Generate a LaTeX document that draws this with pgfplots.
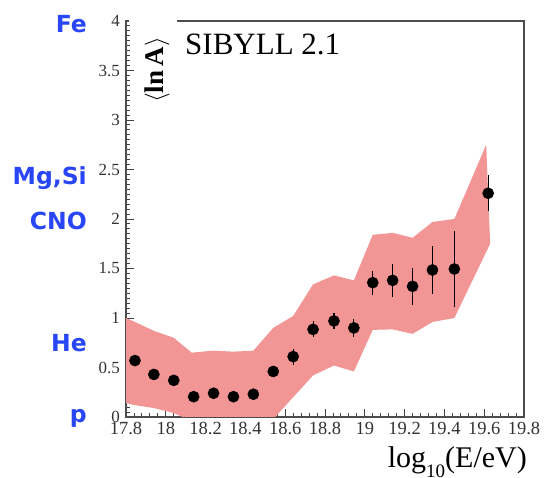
\documentclass[border=0pt]{standalone}
\usepackage{fontspec}
\setmainfont{Liberation Serif}
\newfontfamily\elemfont{DejaVu Sans}
\usepackage{pgfplots}
\usepackage{pgfplotstable}
\pgfplotsset{compat=1.18}

\definecolor{bandpink}{RGB}{241,150,148}
\definecolor{elemblue}{RGB}{40,70,245}

% <lnA> per energy bin with statistical uncertainty
\pgfplotstableread{
x      y     ey
17.845 0.57  0.05
17.94  0.43  0.03
18.04  0.37  0.03
18.14  0.205 0.03
18.24  0.24  0.03
18.34  0.205 0.03
18.44  0.23  0.03
18.54  0.46  0.06
18.64  0.61  0.08
18.74  0.885 0.08
18.845 0.97  0.08
18.945 0.90  0.09
19.04  1.357 0.12
19.14  1.38  0.17
19.24  1.32  0.19
19.34  1.485 0.24
19.45  1.495 0.38
19.62  2.26  0.18
}\lnAdata

% systematic band: upper edge left to right, then lower edge right to left
\pgfplotstableread{
x      y
17.80  1.00
17.845 0.96
17.94  0.87
18.04  0.80
18.13  0.65
18.24  0.67
18.34  0.66
18.44  0.67
18.54  0.90
18.64  1.02
18.74  1.34
18.845 1.43
18.945 1.38
19.04  1.84
19.14  1.86
19.24  1.81
19.34  1.97
19.45  2.00
19.61  2.75
19.63  1.75
19.45  1.00
19.34  0.96
19.24  0.84
19.14  0.885
19.04  0.88
18.945 0.46
18.845 0.52
18.74  0.42
18.64  0.20
18.54  -0.02
18.44  -0.08
18.34  -0.10
18.24  -0.10
18.14  -0.05
18.04  0.04
17.94  0.09
17.845 0.12
17.80  0.14
}\bandedge

\begin{document}
\begin{tikzpicture}
\useasboundingbox (-126pt,-61pt) rectangle (419pt,417pt);
\begin{axis}[
  at={(0pt,0pt)}, anchor=south west,
  scale only axis, width=398pt, height=396pt,
  xmin=17.8, xmax=19.8, ymin=0, ymax=4,
  xtick distance=0.2, ytick distance=0.5,
  minor x tick num=4, minor y tick num=9,
  xtick pos=bottom, ytick pos=left,
  tick align=inside,
  major tick length=8pt, minor tick length=4pt,
  every tick/.style={black!75, line width=0.9pt},
  axis line style={black!70, line width=1.3pt},
  tick label style={text=black!80},
  /pgf/number format/assume math mode=true,
  xticklabel style={inner sep=1pt, yshift=-4pt, font=\fontsize{18.5}{18.5}\selectfont},
  yticklabel style={inner sep=1pt, xshift=-5pt, font=\fontsize{17}{17}\selectfont},
]
\addplot[fill=bandpink, draw=none] table[x=x, y=y] {\bandedge};
\addplot[only marks, mark=*, mark size=5.6pt, black,
  error bars/.cd, y dir=both, y explicit,
  error bar style={line width=1.1pt}, error mark=none]
  table[x=x, y=y, y error=ey] {\lnAdata};
\end{axis}

% white patch behind the rotated axis title, over the top frame line
\fill[white] (3pt,393pt) rectangle (51pt,399pt);

% element markers on the left
\begin{scope}[every node/.style={anchor=base east, inner sep=0pt, text=elemblue,
    font=\elemfont\bfseries\fontsize{23.5}{23.5}\selectfont}]
  \node at (-39pt,384pt) {Fe};
  \node at (-39pt,232pt) {Mg,Si};
  \node at (-39pt,187pt) {CNO};
  \node at (-39pt,65pt)  {He};
  \node at (-39pt,-6pt)  {p};
\end{scope}

\node[anchor=base west, inner sep=0pt, font=\fontsize{31}{31}\selectfont]
  at (59pt,362pt) {SIBYLL 2.1};
\node[rotate=90, inner sep=0pt, font=\fontsize{27}{27}\selectfont\bfseries]
  at (31pt,347pt) {$\langle$ln\,A$\rangle$};
\node[anchor=base east, inner sep=0pt, font=\fontsize{30}{30}\selectfont]
  at (401pt,-50pt) {log\raisebox{-0.35em}{\fontsize{19}{19}\selectfont 10}(E/eV)};
\end{tikzpicture}
\end{document}
